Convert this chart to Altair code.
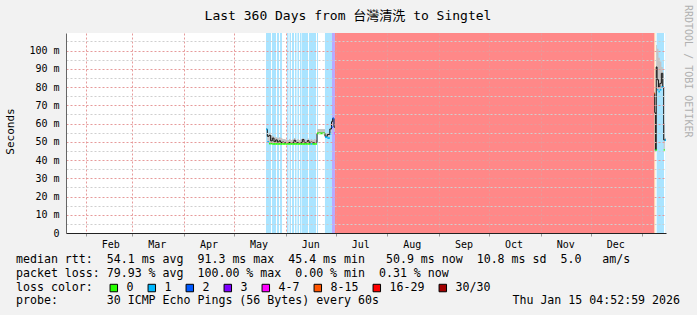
import altair as alt
import pandas as pd

# ---------------- data ----------------
TITLE = "Last 360 Days from 台灣清洗 to Singtel"
MONO = "DejaVu Sans Mono"

# month boundaries used as x ticks / grid
MONTH_TICKS = [(2025, m) for m in range(2, 13)] + [(2026, 1)]

# loss background bands (start, end, loss class)
band_start = ["2025-05-20T05:00:00", "2025-05-23T19:00:00", "2025-05-26T19:00:00", "2025-05-28T14:00:00",
              "2025-06-01T19:00:00", "2025-06-03T07:00:00", "2025-06-04T19:00:00", "2025-06-06T14:00:00",
              "2025-06-08T02:00:00", "2025-06-09T14:00:00", "2025-06-10T19:00:00", "2025-06-15T00:00:00",
              "2025-06-19T19:00:00", "2025-06-24T14:00:00", "2025-06-28T19:00:00", "2025-06-30T14:00:00",
              "2026-01-08T00:00:00", "2026-01-09T14:00:00", "2026-01-15T00:00:00"]
band_end = ["2025-05-23T05:00:00", "2025-05-26T05:00:00", "2025-05-28T00:00:00", "2025-05-29T19:00:00",
            "2025-06-02T17:00:00", "2025-06-04T05:00:00", "2025-06-06T00:00:00", "2025-06-07T12:00:00",
            "2025-06-09T00:00:00", "2025-06-10T12:00:00", "2025-06-14T10:00:00", "2025-06-19T05:00:00",
            "2025-06-20T10:00:00", "2025-06-28T19:00:00", "2025-06-30T14:00:00", "2026-01-08T00:00:00",
            "2026-01-08T19:00:00", "2026-01-14T00:00:00", "2026-01-15T04:52:59"]
band_loss = ["1", "1", "1", "1", "1", "1", "1", "1", "1", "1", "1", "1", "1", "1", "3", "16-29",
             "8-15", "1", "1"]

# median rtt samples (ms), smoke trace and loss class
seg_A_t = ["2025-05-20T05:00:00", "2025-05-21T00:00:00", "2025-05-22T00:00:00", "2025-05-23T00:00:00",
           "2025-05-24T00:00:00", "2025-05-25T00:00:00", "2025-05-26T00:00:00", "2025-05-27T00:00:00",
           "2025-05-28T00:00:00", "2025-05-29T00:00:00", "2025-05-30T00:00:00", "2025-05-31T00:00:00",
           "2025-06-01T00:00:00", "2025-06-02T00:00:00", "2025-06-03T00:00:00", "2025-06-04T00:00:00",
           "2025-06-05T00:00:00", "2025-06-06T00:00:00", "2025-06-07T00:00:00", "2025-06-08T00:00:00",
           "2025-06-09T00:00:00", "2025-06-10T00:00:00", "2025-06-11T00:00:00", "2025-06-12T00:00:00",
           "2025-06-13T00:00:00", "2025-06-14T00:00:00", "2025-06-15T00:00:00", "2025-06-16T00:00:00",
           "2025-06-17T00:00:00", "2025-06-18T00:00:00", "2025-06-19T00:00:00", "2025-06-19T19:00:00",
           "2025-06-21T00:00:00", "2025-06-23T00:00:00", "2025-06-24T14:00:00", "2025-06-26T00:00:00",
           "2025-06-27T12:00:00", "2025-06-28T12:00:00", "2025-06-29T05:00:00", "2025-06-30T00:00:00"]
seg_A_med = [56.8, 50.0, 49.0, 49.0, 48.8, 48.8, 48.8, 48.8, 48.8, 48.8, 48.8, 48.8, 48.8, 48.8, 48.8,
             48.8, 48.8, 48.8, 48.8, 48.8, 48.8, 48.8, 48.8, 48.8, 48.8, 48.8, 48.8, 48.8, 48.8, 48.8,
             48.8, 54.6, 54.6, 54.6, 52.5, 52.0, 54.5, 58.0, 62.8, 54.6]
seg_A_dark = [56.8, 53.0, 53.5, 50.5, 52.0, 50.0, 51.0, 49.8, 50.5, 49.6, 49.8, 49.5, 49.5, 49.4, 49.6,
              49.4, 49.5, 50.8, 49.4, 49.6, 49.4, 49.5, 51.2, 49.5, 49.4, 50.6, 49.4, 49.8, 49.4, 49.6,
              49.6, 54.6, 54.6, 54.6, 53.0, 54.0, 57.0, 61.0, 62.8, 58.0]
seg_A_hi = [57.5, 54.0, 55.0, 53.5, 53.0, 52.5, 52.5, 52.0, 52.5, 52.0, 51.5, 51.5, 51.0, 51.0, 51.5,
            51.0, 51.5, 52.0, 51.0, 51.5, 51.0, 51.5, 52.0, 51.5, 51.0, 51.8, 51.0, 51.5, 51.0, 51.5,
            51.0, 57.0, 57.0, 57.0, 54.5, 55.0, 58.0, 62.0, 63.5, 60.0]
seg_A_loss = ["1", "1", "0", "0", "0", "0", "0", "0", "0", "0", "0", "0", "0", "0", "0", "0", "0", "0",
              "0", "0", "0", "0", "0", "0", "0", "0", "0", "1", "0", "0", "0", "0", "0", "0", "1", "1",
              "1", "2", "2", "4-7"]
seg_A_end = "2025-06-30T14:00:00"

seg_B_t = ["2026-01-08T00:00:00", "2026-01-08T10:00:00", "2026-01-08T20:00:00", "2026-01-09T08:00:00",
           "2026-01-09T20:00:00", "2026-01-10T16:00:00", "2026-01-11T12:00:00", "2026-01-12T10:00:00",
           "2026-01-13T06:00:00", "2026-01-13T20:00:00", "2026-01-14T12:00:00"]
seg_B_med = [76.5, 45.5, 45.5, 45.5, 78.5, 77.5, 78.5, 80.0, 80.0, 45.5, 50.9]
seg_B_dark = [76.5, 66.0, 45.5, 91.0, 84.0, 80.0, 82.0, 87.5, 80.0, 51.0, 50.9]
seg_B_hi = [77.5, 76.0, 47.0, 103.0, 101.0, 96.0, 94.0, 91.0, 88.0, 60.0, 52.0]
seg_B_loss = ["8-15", "1", "0", "0", "1", "1", "1", "1", "1", "0", "1"]
seg_B_end = "2026-01-15T04:52:59"

LOSS_CLASSES = ["0", "1", "2", "3", "4-7", "8-15", "16-29", "30/30"]
LOSS_COLORS = ["#26ff00", "#00b8ff", "#0059ff", "#7e00ff", "#ff00ff", "#ff5500", "#ff0000", "#a10000"]
BAND_CLASSES = ["1", "3", "8-15", "16-29"]
BAND_COLORS = ["#aae4ff", "#b8aaff", "#ffd2b0", "#ff8888"]

Y_TICKS = list(range(0, 110, 5))
MEDIAN_HALF_WIDTH = 0.45  # drawing thickness of the median stroke, in ms

LINE_RTT = "median rtt:  54.1 ms avg  91.3 ms max  45.4 ms min   50.9 ms now  10.8 ms sd  5.0   am/s"
LINE_LOSS = "packet loss: 79.93 % avg  100.00 % max  0.00 % min  0.31 % now"
LINE_PROBE = "probe:       30 ICMP Echo Pings (56 Bytes) every 60s"
STAMP = "Thu Jan 15 04:52:59 2026"
WATERMARK = "RRDTOOL / TOBI OETIKER"

# ---------------- tables ----------------
bands = pd.DataFrame({"start": band_start, "end": band_end, "loss": band_loss})


def seg_frame(name, t, med, dark, hi, loss, end):
    d = pd.DataFrame({"seg": name, "t": t, "med": med, "dark": dark, "hi": hi, "loss": loss})
    d["t_end"] = list(t[1:]) + [end]
    return d


samples = pd.concat([
    seg_frame("A", seg_A_t, seg_A_med, seg_A_dark, seg_A_hi, seg_A_loss, seg_A_end),
    seg_frame("B", seg_B_t, seg_B_med, seg_B_dark, seg_B_hi, seg_B_loss, seg_B_end),
], ignore_index=True)

# step paths need a closing point at each segment end
closing = samples.groupby("seg").tail(1).copy()
closing["t"] = closing["t_end"]
steps = pd.concat([samples, closing], ignore_index=True).sort_values(["seg", "t"])

# ---------------- scales & axes ----------------
x_scale = alt.Scale(domain=[alt.DateTime(year=2025, month=1, date=20, hours=4, minutes=52, seconds=59),
                            alt.DateTime(year=2026, month=1, date=15, hours=4, minutes=52, seconds=59)])
y_scale = alt.Scale(domain=[0, 109.6], nice=False, zero=True)

x_axis = alt.Axis(
    title=None,
    values=[alt.DateTime(year=y, month=m, date=1) for y, m in MONTH_TICKS],
    labelExpr="month(datum.value) == 0 ? '' : timeFormat(datum.value, '%b')",
    labelOffset=24.5, labelFont=MONO, labelFontSize=10, labelColor="#000",
    labelOverlap=False, labelFlush=False, labelBound=False, labelPadding=3,
    tickSize=3, tickColor="#999999",
    domainColor="#222222",
    grid=True, gridColor="#e69a9a", gridDash=[2, 2], gridWidth=1,
    zindex=1,
)
y_axis = alt.Axis(
    title="Seconds", titleFont=MONO, titleFontSize=11, titleFontWeight="normal", titleColor="#000",
    titleX=-56, titleY=98, titleAngle=270, titleBaseline="middle",
    values=Y_TICKS,
    labelExpr="datum.value % 10 === 0 ? (datum.value === 0 ? '0' : datum.value + ' m') : ''",
    labelFont=MONO, labelFontSize=10, labelColor="#000", labelPadding=7,
    ticks=False, domainColor="#666666",
    grid=True,
    gridColor=alt.condition("datum.value % 10 === 0", alt.value("#e69a9a"), alt.value("#cfcfcf")),
    gridDash=[2, 2], gridWidth=1,
    zindex=1,
)

X = lambda f: alt.X(f, type="temporal", scale=x_scale, axis=x_axis)
Y = lambda f: alt.Y(f, type="quantitative", scale=y_scale, axis=y_axis)

band_layer = alt.Chart(bands).mark_rect().encode(
    x=X("start"), x2="end:T",
    y=alt.value(0), y2=alt.value(200),
    fill=alt.Fill("loss:N", scale=alt.Scale(domain=BAND_CLASSES, range=BAND_COLORS), legend=None),
)

smoke = alt.Chart(steps).mark_area(interpolate="step-after", color="#c4c4c4").encode(
    x=X("t"), y=Y("med"), y2="hi:Q", detail="seg:N",
)

dark_line = alt.Chart(steps).mark_line(interpolate="step-after", color="#151515", strokeWidth=1).encode(
    x=X("t"), y=Y("dark"), detail="seg:N",
)

loss_legend = alt.Legend(
    title="loss color:", orient="none", legendX=-50, legendY=249, direction="horizontal",
    titleOrient="left", titleFont=MONO, titleFontSize=11.6, titleFontWeight="normal", titleColor="#000",
    titlePadding=15, titleBaseline="middle",
    labelFont=MONO, labelFontSize=11.6, labelColor="#000", labelOffset=7,
    columnPadding=12, symbolType="square", symbolSize=56,
    symbolStrokeColor="#000", symbolStrokeWidth=1,
)

loss_layer = alt.Chart(samples).transform_calculate(
    lo=f"datum.med - {MEDIAN_HALF_WIDTH}", up=f"datum.med + {MEDIAN_HALF_WIDTH}"
).mark_rect().encode(
    x=X("t"), x2="t_end:T", y=Y("lo"), y2="up:Q",
    color=alt.Color("loss:N", scale=alt.Scale(domain=LOSS_CLASSES, range=LOSS_COLORS), legend=loss_legend),
)

NBSP = "\u00a0"


def txt(s, x, y, font=MONO, color="#000", **kw):
    # keep the monospaced column layout: svg would collapse runs of spaces
    return alt.Chart(pd.DataFrame({"s": [s.replace(" ", NBSP)]})).mark_text(
        font=font, color=color, **kw).encode(text="s:N", x=alt.value(x), y=alt.value(y))


texts = [
    txt(TITLE, 282, -13, font=MONO + ", Noto Sans CJK TC", align="center", baseline="alphabetic",
        fontSize=13),
    txt(LINE_RTT, -50, 230, align="left", baseline="alphabetic", fontSize=11.6),
    txt(LINE_LOSS, -50, 243.7, align="left", baseline="alphabetic", fontSize=11.6),
    txt(LINE_PROBE, -50, 271.2, align="left", baseline="alphabetic", fontSize=11.6),
    txt(STAMP, 614, 271.2, align="right", baseline="alphabetic", fontSize=11.6),
    txt(WATERMARK, 622, -28, color="#b0b0b0", fontSize=10, angle=90, align="left", baseline="middle"),
]

chart = alt.layer(band_layer, smoke, dark_line, loss_layer, *texts).properties(
    width=600, height=200,
    autosize=alt.AutoSizeParams(type="none"),
    padding={"left": 66, "top": 33, "right": 31, "bottom": 82},
).resolve_scale(color="independent", fill="independent").configure(
    background="#f2f2f2",
).configure_view(fill="#ffffff", stroke=None)

chart.save("out.html", embed_options={"renderer": "svg", "actions": False})
